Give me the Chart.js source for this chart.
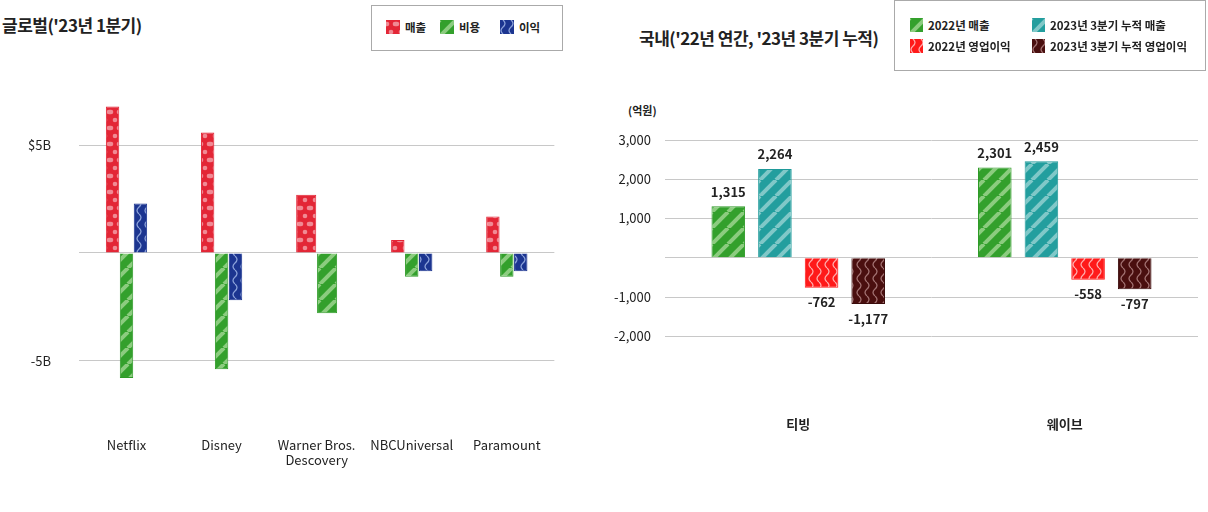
<!DOCTYPE html>
<html><head><meta charset="utf-8">
<script src="https://cdn.jsdelivr.net/npm/chart.js@4.4.0/dist/chart.umd.min.js"></script>
<style>
body{margin:0;width:1208px;height:512px;background:#fff;font-family:"Noto Sans CJK KR","Noto Sans",sans-serif;position:relative;overflow:hidden;color:#222}
.abs{position:absolute}
.title{font-weight:bold;font-size:17px;letter-spacing:-0.5px}
.legend{border:1px solid #aaa;background:#fff;font-size:11.5px;font-weight:bold}
.item{display:inline-flex;align-items:center;gap:5px;position:absolute}
.item canvas{display:block}
canvas.main{display:block}
</style></head><body>
<div class="abs title" style="left:2px;top:12px">글로벌('23년 1분기)</div>
<div class="abs legend" style="left:371px;top:5px;width:190px;height:44px">
  <span class="item" style="left:14px;top:13px"><canvas id="lg0" width="14" height="14"></canvas>매출</span>
  <span class="item" style="left:68px;top:13px"><canvas id="lg1" width="14" height="14"></canvas>비용</span>
  <span class="item" style="left:128px;top:13px"><canvas id="lg2" width="14" height="14"></canvas>이익</span>
</div>
<div class="abs title" style="left:639px;top:25px">국내('22년 연간, '23년 3분기 누적)</div>
<div class="abs legend" style="left:894px;top:0px;width:310px;height:69px">
  <span class="item" style="left:15px;top:16px"><canvas id="lr0" width="13" height="14"></canvas>2022년 매출</span>
  <span class="item" style="left:137px;top:16px"><canvas id="lr1" width="13" height="14"></canvas>2023년 3분기 누적 매출</span>
  <span class="item" style="left:15px;top:37px"><canvas id="lr2" width="13" height="14"></canvas>2022년 영업이익</span>
  <span class="item" style="left:137px;top:37px"><canvas id="lr3" width="13" height="14"></canvas>2023년 3분기 누적 영업이익</span>
</div>
<div class="abs" style="left:628px;top:102px;font-size:11px;font-weight:bold">(억원)</div>
<canvas id="c1" class="main abs" width="580" height="452" style="left:0;top:60px;width:580px;height:452px"></canvas>
<canvas id="c2" class="main abs" width="608" height="412" style="left:600px;top:100px;width:608px;height:412px"></canvas>
<script>
// ---- data ----
const globalCategories = ['Netflix','Disney',['Warner Bros.','Descovery'],'NBCUniversal','Paramount'];
const globalRevenue = [6.8, 5.6, 2.7, 0.6, 1.7];
const globalCost = [-5.8, -5.4, -2.8, -1.1, -1.1];
const globalProfit = [2.3, -2.2, null, -0.85, -0.85];
const globalSeriesNames = ['매출','비용','이익'];
const globalTicks = [5, 0, -5];

const domesticCategories = ['티빙','웨이브'];
const rev2022 = [1315, 2301];
const rev2023Q3 = [2264, 2459];
const op2022 = [-762, -558];
const op2023Q3 = [-1177, -797];
const domesticSeriesNames = ['2022년 매출','2023년 3분기 누적 매출','2022년 영업이익','2023년 3분기 누적 영업이익'];

// ---- patterns ----
function makePattern(type, bg, fg){
  const c=document.createElement('canvas'); const x=c.getContext('2d');
  if(type==='dots'){c.width=10;c.height=16;x.fillStyle=bg;x.fillRect(0,0,10,16);x.fillStyle=fg;
    [[1,4],[9,4],[5,12]].forEach(p=>{x.beginPath();x.arc(p[0],p[1],2.3,0,7);x.fill();});}
  else if(type==='stripes'){c.width=16;c.height=16;x.fillStyle=bg;x.fillRect(0,0,16,16);x.strokeStyle=fg;x.lineWidth=4;
    [-16,0,16].forEach(o=>{x.beginPath();x.moveTo(o,16);x.lineTo(o+16,0);x.stroke();});}
  else {c.width=8;c.height=14;x.fillStyle=bg;x.fillRect(0,0,8,14);x.strokeStyle=fg;x.lineWidth=1.3;
    x.beginPath();x.moveTo(3,0);x.quadraticCurveTo(7,3.5,3,7);x.quadraticCurveTo(-1,10.5,3,14);x.stroke();}
  return c;
}
const P = {
  red: ['dots','#e32636','#f08a94'],
  green: ['stripes','#33a02c','#8ccc7f'],
  blue: ['waves','#1c3590','#8aa0d8'],
  teal: ['stripes','#239e9e','#80c8c8'],
  bred: ['waves','#ff1a1a','#ffaaaa'],
  brown: ['waves','#4a0f0f','#a07070']
};
function pat(ctx,k){return ctx.createPattern(makePattern(...P[k]),'repeat');}
const border = {red:'#e32636',green:'#2e9a27',blue:'#1c3590',teal:'#1f9a9a',bred:'#ff1a1a',brown:'#3a0b0b'};
function swatch(id,k){const c=document.getElementById(id).getContext('2d');c.fillStyle=pat(c,k);c.fillRect(0,0,20,20);}
['red','green','blue'].forEach((k,i)=>swatch('lg'+i,k));
['green','teal','bred','brown'].forEach((k,i)=>swatch('lr'+i,k));

const c1=document.getElementById('c1').getContext('2d');
const c2=document.getElementById('c2').getContext('2d');
const font="'Noto Sans CJK KR','Noto Sans',sans-serif";
Chart.defaults.font.family=font;
Chart.defaults.color='#222';

function ds(ctx,label,data,k){return {label,data,backgroundColor:pat(ctx,k),borderColor:border[k],borderWidth:1,skipNull:true};}

new Chart(c1,{type:'bar',
  data:{labels:globalCategories,datasets:[
    ds(c1,globalSeriesNames[0],globalRevenue,'red'),
    ds(c1,globalSeriesNames[1],globalCost,'green'),
    ds(c1,globalSeriesNames[2],globalProfit,'blue')]},
  options:{responsive:false,animation:false,devicePixelRatio:1,
    layout:{padding:{top:20,right:14,bottom:6}},
    plugins:{legend:{display:false},tooltip:{enabled:false}},
    datasets:{bar:{categoryPercentage:0.44,barPercentage:0.96}},
    scales:{
      x:{grid:{display:false},border:{display:false},ticks:{padding:38,font:{size:13},color:'#222'}},
      y:{min:-6.4,max:7.3,border:{display:false},grid:{color:'#c8c8c8',drawTicks:false},
        afterBuildTicks:s=>{s.ticks=globalTicks.map(v=>({value:v}));},
        ticks:{padding:28,font:{size:13},color:'#222',callback:v=>v===0?'':(v>0?'$'+v+'B':v+'B')}}}}
});

const labelPlugin={id:'vals',afterDatasetsDraw(ch){const x=ch.ctx;x.save();x.font="bold 13px "+font;x.fillStyle='#222';x.textAlign='center';
  ch.data.datasets.forEach((d,i)=>{ch.getDatasetMeta(i).data.forEach((b,j)=>{const v=d.data[j];
    x.textBaseline=v>=0?'bottom':'top';x.fillText(v.toLocaleString('en-US'),b.x,v>=0?b.y-8:b.y+8);});});x.restore();}};

new Chart(c2,{type:'bar',
  data:{labels:domesticCategories,datasets:[
    ds(c2,domesticSeriesNames[0],rev2022,'green'),
    ds(c2,domesticSeriesNames[1],rev2023Q3,'teal'),
    ds(c2,domesticSeriesNames[2],op2022,'bred'),
    ds(c2,domesticSeriesNames[3],op2023Q3,'brown')]},
  plugins:[labelPlugin],
  options:{responsive:false,animation:false,devicePixelRatio:1,
    layout:{padding:{top:40,right:10,bottom:8}},
    plugins:{legend:{display:false},tooltip:{enabled:false}},
    datasets:{bar:{categoryPercentage:0.7,barPercentage:0.72}},
    scales:{
      x:{grid:{display:false},border:{display:false},ticks:{padding:72,font:{size:13,weight:'bold'},color:'#222'}},
      y:{min:-2000,max:3000,border:{display:false},grid:{color:'#c8c8c8',drawTicks:false},
        ticks:{stepSize:1000,padding:14,font:{size:13},color:'#222',callback:v=>v===0?'':v.toLocaleString('en-US')}}}}
});
</script></body></html>
